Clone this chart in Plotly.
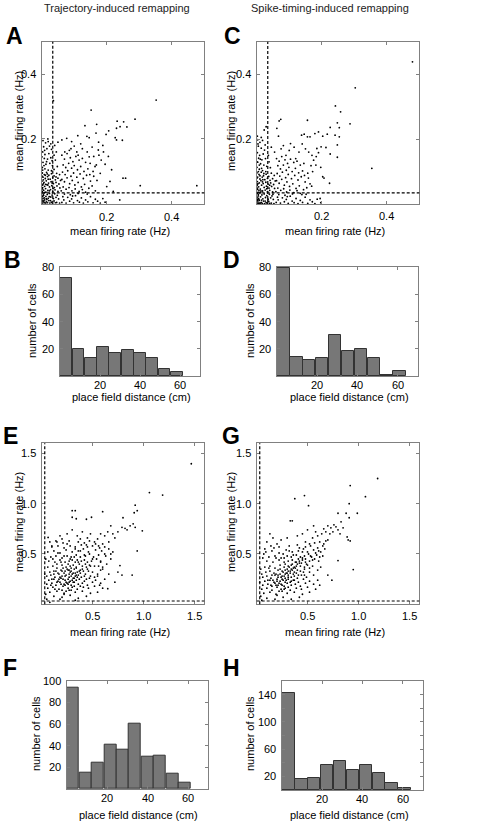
import plotly.graph_objects as go

W, H = 494, 822

# ---------------- data ----------------
# Panel A: trajectory-induced remapping, mean firing rate env1 vs env2 (Hz)
pts_A = [
    (0.352,0.320),(0.036,0.318),(0.152,0.289),(0.287,0.261),(0.232,0.255),(0.252,0.253),(0.241,0.238),(0.262,0.237),
    (0.230,0.233),(0.169,0.245),(0.133,0.241),(0.206,0.225),(0.198,0.214),(0.167,0.218),(0.139,0.208),(0.146,0.204),
    (0.248,0.196),(0.226,0.204),(0.111,0.210),(0.077,0.202),(0.303,0.056),(0.477,0.056),(0.258,0.079),(0.188,0.180),
    (0.174,0.166),(0.183,0.135),(0.180,0.094),(0.210,0.069),(0.200,0.053),(0.220,0.038),(0.240,0.012),
    (0.062,0.197),(0.092,0.192),(0.120,0.185),(0.149,0.125),(0.160,0.146),(0.205,0.146),(0.230,0.197),(0.164,0.115),
    (0.195,0.122),(0.215,0.105),(0.250,0.079),(0.125,0.170),(0.100,0.178),(0.085,0.165),(0.140,0.160),(0.155,0.175),
    (0.175,0.190),(0.112,0.150),
    (0.004,0.195),(0.012,0.188),(0.020,0.192),(0.028,0.185),(0.006,0.176),(0.016,0.170),(0.030,0.168),(0.003,0.160),
    (0.010,0.152),(0.022,0.155),(0.008,0.140),(0.018,0.138),(0.028,0.142),(0.004,0.128),(0.013,0.122),(0.025,0.125),
    (0.033,0.118),(0.002,0.112),(0.010,0.108),(0.020,0.104),(0.030,0.102),(0.040,0.180),(0.045,0.160),(0.042,0.135),
    (0.048,0.115),(0.038,0.150),(0.050,0.190),
    (0.002,0.095),(0.008,0.090),(0.015,0.097),(0.022,0.088),(0.030,0.093),(0.038,0.086),(0.046,0.094),(0.055,0.090),
    (0.004,0.082),(0.011,0.078),(0.018,0.084),(0.026,0.076),(0.034,0.080),(0.042,0.074),(0.050,0.079),(0.058,0.072),
    (0.001,0.070),(0.007,0.066),(0.014,0.071),(0.021,0.064),(0.029,0.068),(0.036,0.062),(0.044,0.066),(0.053,0.061),
    (0.003,0.058),(0.009,0.054),(0.016,0.059),(0.024,0.052),(0.031,0.056),(0.039,0.050),(0.047,0.055),(0.056,0.049),
    (0.002,0.046),(0.006,0.042),(0.012,0.047),(0.019,0.041),(0.027,0.044),(0.034,0.039),(0.041,0.043),(0.050,0.038),
    (0.001,0.034),(0.005,0.030),(0.010,0.035),(0.017,0.029),(0.024,0.032),(0.032,0.027),(0.040,0.031),(0.048,0.026),
    (0.003,0.022),(0.008,0.018),(0.013,0.023),(0.020,0.017),(0.028,0.021),(0.036,0.016),(0.044,0.020),(0.052,0.015),
    (0.001,0.011),(0.004,0.007),(0.009,0.012),(0.015,0.006),(0.022,0.010),(0.030,0.005),(0.038,0.009),(0.046,0.004),
    (0.002,0.002),(0.007,0.003),(0.012,0.001),(0.018,0.003),(0.025,0.002),(0.033,0.001),(0.042,0.003),(0.055,0.002),
    (0.005,0.062),(0.013,0.036),(0.020,0.076),(0.027,0.010),(0.006,0.026),(0.016,0.013),(0.011,0.088),(0.003,0.050),
    (0.010,0.004),(0.004,0.016),
    (0.001,0.085),(0.005,0.074),(0.002,0.038),(0.006,0.009),(0.014,0.016),(0.019,0.058),(0.024,0.040),(0.032,0.064),
    (0.001,0.024),(0.008,0.034),(0.012,0.060),(0.017,0.092),(0.023,0.022),(0.035,0.047),(0.044,0.083),(0.003,0.104),
    (0.007,0.118),(0.015,0.130),(0.001,0.145),(0.009,0.165),(0.024,0.178),(0.019,0.200),(0.032,0.133),(0.038,0.106),
    (0.062,0.004),(0.068,0.012),(0.075,0.002),(0.080,0.020),(0.086,0.008),(0.092,0.015),(0.098,0.003),(0.104,0.025),
    (0.110,0.010),(0.116,0.005),(0.122,0.018),(0.128,0.002),(0.135,0.012),(0.142,0.006),(0.150,0.022),(0.158,0.003),
    (0.165,0.014),(0.172,0.008),(0.180,0.002),(0.188,0.016),(0.195,0.005),(0.070,0.030),(0.088,0.028),(0.112,0.032),
    (0.140,0.030),(0.065,0.022),(0.095,0.024),
    (0.062,0.150),(0.070,0.138),(0.078,0.155),(0.088,0.142),(0.096,0.130),(0.105,0.146),(0.115,0.135),(0.125,0.140),
    (0.135,0.128),(0.066,0.120),(0.074,0.112),(0.083,0.125),(0.092,0.110),(0.100,0.118),(0.110,0.105),(0.120,0.115),
    (0.130,0.100),(0.142,0.108),(0.064,0.098),(0.072,0.090),(0.080,0.102),(0.090,0.085),(0.098,0.095),(0.108,0.082),
    (0.118,0.092),(0.128,0.078),(0.138,0.088),(0.150,0.070),(0.160,0.085),(0.170,0.072),(0.062,0.075),(0.070,0.068),
    (0.078,0.080),(0.086,0.062),(0.094,0.072),(0.102,0.058),(0.112,0.066),(0.122,0.052),(0.132,0.060),(0.145,0.048),
    (0.155,0.055),(0.165,0.040),(0.066,0.052),(0.075,0.045),(0.084,0.050),(0.093,0.040),(0.103,0.046),(0.115,0.038),
    (0.125,0.044),(0.135,0.036),(0.060,0.040),(0.071,0.160),(0.090,0.170),(0.108,0.160),(0.146,0.145),(0.158,0.100),
    (0.168,0.120),(0.176,0.150),(0.190,0.160),(0.148,0.090),
]

# Panel C: spike-timing-induced remapping
pts_C = [
    (0.479,0.438),(0.303,0.358),(0.242,0.302),(0.258,0.284),(0.248,0.250),(0.254,0.235),(0.287,0.247),(0.226,0.236),
    (0.156,0.258),(0.062,0.233),(0.074,0.261),(0.069,0.256),(0.029,0.238),(0.023,0.228),(0.002,0.209),(0.067,0.209),
    (0.138,0.212),(0.146,0.215),(0.156,0.207),(0.164,0.207),(0.179,0.217),(0.190,0.222),(0.203,0.209),(0.217,0.215),
    (0.241,0.212),(0.254,0.207),(0.248,0.182),(0.248,0.144),(0.226,0.154),(0.213,0.174),(0.198,0.176),(0.185,0.171),
    (0.190,0.158),(0.183,0.146),(0.354,0.110),(0.197,0.113),(0.203,0.084),(0.207,0.080),(0.224,0.064),(0.164,0.062),
    (0.169,0.055),(0.195,0.017),(0.197,0.004),
    (0.140,0.185),(0.150,0.170),(0.160,0.160),(0.170,0.150),(0.130,0.160),(0.115,0.175),(0.100,0.165),(0.090,0.150),
    (0.120,0.140),(0.075,0.170),(0.055,0.160),(0.082,0.180),(0.104,0.186),(0.045,0.175),
    (0.003,0.198),(0.010,0.190),(0.018,0.196),(0.026,0.182),(0.005,0.178),(0.014,0.172),(0.024,0.166),(0.002,0.158),
    (0.009,0.150),(0.020,0.154),(0.006,0.141),(0.016,0.136),(0.027,0.140),(0.003,0.129),(0.012,0.124),(0.022,0.120),
    (0.031,0.116),(0.001,0.113),(0.008,0.107),(0.018,0.103),(0.028,0.100),(0.038,0.130),(0.042,0.112),(0.036,0.150),
    (0.001,0.096),(0.007,0.091),(0.014,0.098),(0.021,0.087),(0.029,0.092),(0.037,0.085),(0.045,0.095),(0.054,0.088),
    (0.003,0.083),(0.010,0.077),(0.017,0.083),(0.025,0.075),(0.033,0.079),(0.041,0.073),(0.049,0.078),(0.057,0.071),
    (0.002,0.069),(0.008,0.065),(0.013,0.072),(0.020,0.063),(0.028,0.067),(0.035,0.061),(0.043,0.065),(0.052,0.060),
    (0.001,0.057),(0.006,0.053),(0.015,0.058),(0.023,0.051),(0.030,0.055),(0.038,0.049),(0.046,0.054),(0.055,0.048),
    (0.003,0.045),(0.007,0.041),(0.011,0.046),(0.018,0.040),(0.026,0.043),(0.033,0.038),(0.040,0.042),(0.049,0.037),
    (0.002,0.033),(0.005,0.029),(0.009,0.034),(0.016,0.028),(0.023,0.031),(0.031,0.026),(0.039,0.030),(0.047,0.025),
    (0.001,0.021),(0.006,0.017),(0.012,0.022),(0.019,0.016),(0.027,0.020),(0.035,0.015),(0.043,0.019),(0.051,0.014),
    (0.002,0.010),(0.004,0.006),(0.008,0.011),(0.014,0.005),(0.021,0.009),(0.029,0.004),(0.037,0.008),(0.045,0.003),
    (0.001,0.002),(0.006,0.001),(0.011,0.003),(0.017,0.002),(0.024,0.001),(0.032,0.003),(0.040,0.002),(0.053,0.001),
    (0.004,0.063),(0.012,0.035),(0.019,0.075),(0.026,0.009),(0.005,0.025),(0.015,0.012),(0.010,0.087),(0.002,0.049),
    (0.009,0.003),(0.003,0.015),(0.008,0.120),(0.015,0.110),
    (0.001,0.080),(0.004,0.036),(0.002,0.060),(0.007,0.013),(0.013,0.040),(0.018,0.068),(0.022,0.094),(0.031,0.047),
    (0.001,0.130),(0.005,0.100),(0.011,0.138),(0.004,0.185),(0.014,0.205),(0.034,0.012),(0.040,0.058),(0.050,0.030),
    (0.060,0.005),(0.066,0.013),(0.073,0.003),(0.079,0.019),(0.085,0.007),(0.091,0.014),(0.097,0.002),(0.103,0.024),
    (0.109,0.009),(0.115,0.004),(0.121,0.017),(0.127,0.001),(0.134,0.011),(0.141,0.005),(0.149,0.021),(0.157,0.002),
    (0.164,0.013),(0.171,0.007),(0.179,0.001),(0.186,0.015),(0.068,0.029),(0.087,0.027),(0.110,0.031),(0.139,0.029),
    (0.064,0.021),(0.094,0.023),(0.152,0.030),
    (0.061,0.140),(0.069,0.132),(0.077,0.146),(0.087,0.136),(0.095,0.125),(0.104,0.138),(0.114,0.128),(0.124,0.132),
    (0.134,0.120),(0.065,0.118),(0.073,0.108),(0.082,0.120),(0.091,0.104),(0.099,0.113),(0.109,0.100),(0.119,0.110),
    (0.129,0.096),(0.141,0.102),(0.063,0.094),(0.071,0.086),(0.079,0.098),(0.089,0.081),(0.097,0.091),(0.107,0.078),
    (0.117,0.088),(0.127,0.074),(0.137,0.084),(0.149,0.068),(0.159,0.080),(0.061,0.072),(0.069,0.064),(0.077,0.076),
    (0.085,0.058),(0.093,0.068),(0.101,0.054),(0.111,0.062),(0.121,0.048),(0.131,0.056),(0.144,0.044),(0.154,0.050),
    (0.065,0.049),(0.074,0.042),(0.083,0.047),(0.092,0.037),(0.102,0.043),(0.114,0.035),(0.124,0.041),(0.134,0.033),
    (0.059,0.038),(0.145,0.125),(0.157,0.095),(0.167,0.118),(0.175,0.135),(0.147,0.088),(0.172,0.100),(0.182,0.120),
]

# Panel E: trajectory-induced remapping (second condition)
pts_E = [
    (1.472,1.397),(1.060,1.110),(1.190,1.085),(0.920,0.985),(0.910,0.910),(0.940,0.930),(0.600,0.920),(0.800,0.860),
    (0.300,0.930),(0.330,0.930),(0.300,0.865),(0.340,0.850),(0.440,0.845),(0.490,0.865),(0.680,0.780),(0.790,0.765),
    (0.820,0.755),(0.870,0.780),(0.900,0.800),(0.920,0.765),(0.990,0.730),(0.840,0.740),(0.940,0.530),(0.890,0.290),
    (0.770,0.385),(0.790,0.290),(0.720,0.220),(0.650,0.155),(0.570,0.190),(0.750,0.320),(0.063,0.665),(0.080,0.020),
    (0.55,0.65),(0.58,0.70),(0.62,0.68),(0.65,0.72),(0.70,0.70),(0.72,0.66),(0.75,0.72),(0.60,0.60),(0.66,0.62),
    (0.56,0.58),(0.52,0.62),(0.48,0.70),(0.45,0.66),(0.40,0.72),(0.35,0.68),(0.30,0.74),(0.25,0.70),(0.20,0.65),
    (0.15,0.62),(0.10,0.58),(0.62,0.50),(0.68,0.45),(0.70,0.52),(0.64,0.40),(0.60,0.35),(0.66,0.30),(0.55,0.28),
    (0.58,0.42),
    (0.12,0.08),(0.20,0.07),(0.28,0.09),(0.36,0.06),(0.44,0.08),(0.22,0.10),
    (0.08,0.12),(0.15,0.13),(0.22,0.11),(0.27,0.14),(0.33,0.12),(0.40,0.13),(0.48,0.11),(0.55,0.12),
    (0.06,0.16),(0.11,0.17),(0.17,0.15),(0.21,0.18),(0.26,0.16),(0.30,0.17),(0.35,0.15),(0.41,0.17),(0.46,0.16),
    (0.52,0.18),(0.60,0.16),
    (0.05,0.20),(0.10,0.21),(0.14,0.19),(0.18,0.22),(0.22,0.20),(0.25,0.21),(0.29,0.19),(0.32,0.22),(0.36,0.20),
    (0.40,0.21),(0.45,0.19),(0.50,0.22),(0.58,0.21),
    (0.07,0.24),(0.12,0.25),(0.16,0.23),(0.19,0.26),(0.23,0.24),(0.26,0.25),(0.28,0.23),(0.31,0.26),(0.34,0.24),
    (0.37,0.25),(0.42,0.23),(0.47,0.26),(0.53,0.24),(0.62,0.25),
    (0.05,0.28),(0.09,0.29),(0.13,0.27),(0.17,0.30),(0.20,0.28),(0.24,0.29),(0.27,0.27),(0.30,0.30),(0.33,0.28),
    (0.36,0.29),(0.39,0.27),(0.43,0.30),(0.48,0.28),(0.55,0.30),(0.22,0.31),(0.28,0.32),
    (0.08,0.32),(0.12,0.33),(0.16,0.31),(0.19,0.34),(0.23,0.33),(0.26,0.34),(0.29,0.33),(0.32,0.35),(0.35,0.32),
    (0.38,0.34),(0.41,0.33),(0.45,0.35),(0.50,0.32),(0.58,0.34),(0.31,0.31),(0.34,0.36),
    (0.06,0.37),(0.11,0.38),(0.15,0.36),(0.20,0.39),(0.24,0.37),(0.28,0.38),(0.31,0.39),(0.34,0.37),(0.37,0.40),
    (0.40,0.38),(0.44,0.37),(0.47,0.39),(0.52,0.38),(0.60,0.37),(0.36,0.42),(0.39,0.43),
    (0.07,0.43),(0.13,0.42),(0.18,0.44),(0.23,0.42),(0.27,0.43),(0.30,0.44),(0.33,0.42),(0.42,0.44),(0.45,0.42),
    (0.49,0.43),(0.54,0.45),(0.58,0.43),
    (0.09,0.47),(0.14,0.48),(0.20,0.46),(0.25,0.48),(0.29,0.47),(0.34,0.49),(0.38,0.47),(0.43,0.48),(0.47,0.50),
    (0.51,0.47),(0.56,0.49),(0.63,0.48),
    (0.06,0.52),(0.12,0.53),(0.18,0.51),(0.24,0.54),(0.30,0.52),(0.36,0.53),(0.41,0.55),(0.46,0.52),(0.53,0.54),
    (0.59,0.53),(0.66,0.55),
    (0.10,0.57),(0.16,0.58),(0.22,0.56),(0.28,0.58),(0.33,0.57),(0.39,0.59),(0.45,0.57),(0.50,0.58),(0.57,0.56),
    (0.08,0.62),(0.14,0.63),(0.21,0.61),(0.27,0.63),(0.36,0.62),(0.42,0.61),(0.47,0.63),
    (0.04,0.10),(0.03,0.30),(0.04,0.45),(0.05,0.05),(0.18,0.05),(0.33,0.04),
    (0.21,0.25),(0.24,0.22),(0.27,0.30),(0.30,0.24),(0.33,0.31),(0.25,0.35),(0.29,0.36),(0.20,0.33),(0.23,0.28),
    (0.35,0.27),(0.38,0.31),(0.18,0.27),(0.26,0.20),(0.31,0.22),(0.40,0.35),(0.43,0.40),(0.35,0.44),(0.26,0.40),
    (0.15,0.40),(0.12,0.30),(0.15,0.22),(0.20,0.14),(0.32,0.18),(0.44,0.25),(0.50,0.45),(0.32,0.47),(0.22,0.48),
    (0.19,0.20),(0.23,0.19),(0.27,0.22),(0.29,0.28),(0.32,0.26),(0.34,0.29),(0.37,0.33),(0.27,0.34),(0.21,0.36),
    (0.17,0.25),(0.14,0.33),(0.10,0.25),(0.09,0.19),(0.13,0.15),(0.24,0.13),(0.29,0.14),(0.38,0.18),(0.42,0.28),
    (0.46,0.33),(0.48,0.38),(0.42,0.49),(0.38,0.53),(0.28,0.45),(0.19,0.42),(0.11,0.45),(0.16,0.51),(0.33,0.55),
    (0.44,0.59),(0.53,0.60),(0.25,0.60),(0.18,0.68),(0.38,0.65),(0.62,0.57),(0.68,0.50),(0.56,0.38),(0.52,0.27),
]

# Panel G: spike-timing-induced remapping (second condition)
pts_G = [
    (1.19,1.25),(0.92,1.18),(1.07,1.07),(0.47,1.08),(0.375,1.05),(0.51,0.98),(0.91,1.00),(0.80,0.905),(0.88,0.905),
    (0.99,0.905),(0.91,0.86),(0.33,0.83),(0.35,0.83),(0.83,0.82),(0.92,0.63),(0.90,0.64),(0.80,0.435),(0.95,0.345),
    (0.89,0.67),(0.74,0.24),(0.70,0.29),(0.62,0.19),
    (0.70,0.78),(0.73,0.76),(0.76,0.79),(0.78,0.77),(0.75,0.72),(0.72,0.70),(0.68,0.72),(0.66,0.75),(0.64,0.70),
    (0.80,0.74),(0.82,0.70),(0.85,0.76),(0.60,0.68),(0.58,0.72),(0.55,0.66),(0.62,0.62),(0.66,0.60),(0.70,0.64),
    (0.52,0.60),(0.48,0.62),(0.45,0.70),(0.40,0.68),(0.56,0.78),(0.50,0.74),
    (0.13,0.70),(0.16,0.66),(0.10,0.62),(0.20,0.60),(0.08,0.55),(0.17,0.56),(0.24,0.64),(0.30,0.66),
    (0.10,0.06),(0.18,0.05),(0.26,0.07),(0.34,0.05),(0.42,0.07),(0.20,0.09),(0.05,0.04),
    (0.07,0.11),(0.13,0.12),(0.19,0.10),(0.25,0.13),(0.30,0.11),(0.37,0.12),(0.45,0.10),(0.52,0.12),
    (0.05,0.15),(0.10,0.16),(0.15,0.14),(0.20,0.17),(0.24,0.15),(0.28,0.16),(0.33,0.14),(0.39,0.16),(0.44,0.15),
    (0.50,0.17),(0.58,0.15),
    (0.06,0.19),(0.11,0.20),(0.15,0.18),(0.18,0.21),(0.21,0.19),(0.24,0.20),(0.27,0.18),(0.30,0.21),(0.34,0.19),
    (0.38,0.20),(0.43,0.18),(0.48,0.21),(0.56,0.20),
    (0.08,0.23),(0.13,0.24),(0.17,0.22),(0.20,0.25),(0.23,0.23),(0.26,0.24),(0.28,0.22),(0.31,0.25),(0.34,0.23),
    (0.37,0.24),(0.41,0.22),(0.46,0.25),(0.52,0.23),(0.60,0.24),
    (0.06,0.27),(0.10,0.28),(0.14,0.26),(0.18,0.29),(0.21,0.27),(0.25,0.28),(0.28,0.26),(0.31,0.29),(0.34,0.27),
    (0.37,0.28),(0.40,0.26),(0.44,0.29),(0.49,0.27),(0.56,0.29),(0.23,0.30),(0.29,0.31),
    (0.09,0.32),(0.13,0.33),(0.17,0.31),(0.21,0.34),(0.25,0.33),(0.28,0.34),(0.31,0.33),(0.34,0.35),(0.37,0.32),
    (0.40,0.34),(0.43,0.33),(0.47,0.35),(0.52,0.32),(0.60,0.34),(0.33,0.31),(0.36,0.36),
    (0.08,0.37),(0.13,0.38),(0.18,0.36),(0.23,0.39),(0.27,0.37),(0.31,0.38),(0.34,0.39),(0.37,0.37),(0.40,0.40),
    (0.43,0.38),(0.47,0.37),(0.50,0.39),(0.55,0.38),(0.63,0.37),(0.39,0.42),(0.42,0.43),
    (0.10,0.43),(0.16,0.42),(0.22,0.44),(0.27,0.42),(0.31,0.43),(0.35,0.44),(0.38,0.42),(0.45,0.44),(0.48,0.42),
    (0.52,0.43),(0.57,0.45),(0.61,0.43),
    (0.12,0.47),(0.18,0.48),(0.24,0.46),(0.30,0.48),(0.34,0.47),(0.39,0.49),(0.43,0.47),(0.47,0.48),(0.51,0.50),
    (0.54,0.47),(0.59,0.49),(0.65,0.48),
    (0.09,0.52),(0.15,0.53),(0.22,0.51),(0.29,0.54),(0.35,0.52),(0.41,0.53),(0.46,0.55),(0.50,0.52),(0.56,0.54),
    (0.61,0.53),(0.67,0.55),
    (0.14,0.58),(0.22,0.57),(0.32,0.58),(0.40,0.59),(0.48,0.57),(0.53,0.58),(0.60,0.56),(0.65,0.58),
    (0.04,0.08),(0.03,0.22),(0.04,0.35),(0.06,0.46),
    (0.22,0.21),(0.25,0.25),(0.28,0.30),(0.31,0.27),(0.33,0.33),(0.36,0.30),(0.30,0.35),(0.26,0.32),(0.20,0.23),
    (0.35,0.40),(0.38,0.36),(0.42,0.41),(0.45,0.46),(0.48,0.45),(0.28,0.40),(0.24,0.27),(0.19,0.30),(0.16,0.24),
    (0.27,0.15),(0.33,0.22),(0.41,0.29),(0.46,0.32),(0.55,0.44),(0.58,0.51),(0.62,0.47),(0.26,0.50),
    (0.21,0.29),(0.23,0.35),(0.27,0.28),(0.30,0.31),(0.32,0.37),(0.35,0.34),(0.39,0.38),(0.41,0.45),(0.44,0.41),
    (0.29,0.24),(0.25,0.19),(0.19,0.19),(0.15,0.29),(0.12,0.36),(0.11,0.24),(0.14,0.19),(0.22,0.13),(0.31,0.17),
    (0.36,0.24),(0.39,0.31),(0.49,0.40),(0.53,0.48),(0.45,0.52),(0.36,0.49),(0.27,0.46),(0.19,0.46),(0.32,0.53),
    (0.42,0.56),(0.57,0.61),(0.63,0.52),(0.68,0.63),(0.52,0.36),(0.47,0.29),(0.07,0.50),(0.05,0.30),
]

# histogram bins (place field distance, cm) and counts
bins_BF = [3.08, 9.23, 15.38, 21.53, 27.68, 33.83, 39.98, 46.13, 52.28, 58.43]
bins_DH = [3.21, 9.63, 16.05, 22.47, 28.89, 35.31, 41.73, 48.15, 54.57, 60.99]
counts_B = [72, 20, 13, 21, 17, 19, 17, 13, 5, 3]
counts_D = [79, 14, 12, 13, 30, 18, 20, 13, 1, 4]
counts_F = [94, 15, 24, 41, 36, 60, 30, 31, 14, 6]
counts_H = [142, 16, 17, 36, 43, 29, 37, 25, 11, 3]

# ticks
ticks_rate_small = [0.2, 0.4]
ticks_rate_large = [0.5, 1.0, 1.5]
ticks_dist = [20, 40, 60]
ticks_cells_80 = [20, 40, 60, 80]
ticks_cells_100 = [20, 40, 60, 80, 100]
ticks_cells_160 = [20, 40, 60, 80, 100, 120, 140]
labels_cells_160 = ["20", "", "60", "", "100", "", "140"]

threshold_x = 0.034   # dashed threshold lines (Hz)
threshold_y = 0.034
threshold_x2 = 0.03
threshold_y2 = 0.033

# ---------------- figure ----------------
FONT = "Liberation Sans, Arial, Helvetica, sans-serif"
GRAY = "#808080"

def dx(a, b):
    return [a / W, b / W]

def dy(top, bottom):
    return [1 - bottom / H, 1 - top / H]

def px(x):
    return x / W

def py(y):
    return 1 - y / H

fig = go.Figure()

def base_axis(**kw):
    d = dict(showline=True, linecolor=GRAY, linewidth=1, mirror="ticks", ticks="inside",
             ticklen=3, tickcolor=GRAY, tickwidth=1, showgrid=False, zeroline=False,
             showticklabels=False, fixedrange=True)
    d.update(kw)
    return d

panels = {
    "A": ((41.7, 204.3), (41.7, 203.8)),
    "C": ((256.7, 419.3), (41.7, 204.0)),
    "B": ((60.0, 200.0), (267.0, 376.0)),
    "D": ((277.0, 417.7), (267.0, 376.0)),
    "E": ((41.7, 204.3), (443.3, 604.3)),
    "G": ((256.7, 419.3), (443.3, 604.3)),
    "F": ((66.7, 208.3), (680.7, 789.0)),
    "H": ((282.0, 422.7), (681.0, 790.0)),
}
order = ["A", "C", "B", "D", "E", "G", "F", "H"]
axid = {k: i + 1 for i, k in enumerate(order)}

def axnames(k):
    i = axid[k]
    return ("x" if i == 1 else f"x{i}"), ("y" if i == 1 else f"y{i}")

# per panel: x range, x ticks, x labels, x label offset ; y range, y ticks, y labels
spec = {
    "A": ([0, 0.5], ticks_rate_small, ["0.2", "0.4"], 13, [0, 0.5], ticks_rate_small, ["0.2", "0.4"]),
    "C": ([0, 0.5], ticks_rate_small, ["0.2", "0.4"], 12, [0, 0.5], ticks_rate_small, ["0.2", "0.4"]),
    "B": ([0, 70], ticks_dist, ["20", "40", "60"], 8.5, [0, 80], ticks_cells_80, ["20", "40", "60", "80"]),
    "D": ([0, 70], ticks_dist, ["20", "40", "60"], 8.5, [0, 80], ticks_cells_80, ["20", "40", "60", "80"]),
    "E": ([0, 1.6], ticks_rate_large, ["0.5", "1.0", "1.5"], 12, [0, 1.6], ticks_rate_large, ["0.5", "1.0", "1.5"]),
    "G": ([0, 1.6], ticks_rate_large, ["0.5", "1.0", "1.5"], 12, [0, 1.6], ticks_rate_large, ["0.5", "1.0", "1.5"]),
    "F": ([0, 70], ticks_dist, ["20", "40", "60"], 8.5, [0, 100], ticks_cells_100, ["20", "40", "60", "80", "100"]),
    "H": ([0, 70], ticks_dist, ["20", "40", "60"], 9, [0, 160], ticks_cells_160, labels_cells_160),
}

ann = []
TICKFONT = dict(family=FONT, size=11, color="black")
layout_axes = {}
for k in order:
    i = axid[k]
    (xa, xb), (yt, yb) = panels[k]
    xn, yn = axnames(k)
    xr, xt, xl, xoff, yr, yt_, yl = spec[k]
    xkey = "xaxis" if i == 1 else f"xaxis{i}"
    ykey = "yaxis" if i == 1 else f"yaxis{i}"
    layout_axes[xkey] = base_axis(range=xr, tickvals=xt, domain=dx(xa, xb), anchor=yn)
    layout_axes[ykey] = base_axis(range=yr, tickvals=yt_, domain=dy(yt, yb), anchor=xn)
    for v, t in zip(xt, xl):
        ann.append(dict(x=v, xref=xn, y=0, yref=f"{yn} domain", yshift=-xoff, text=t, borderpad=0,
                        showarrow=False, xanchor="center", yanchor="middle", font=TICKFONT))
    for v, t in zip(yt_, yl):
        if t:
            ann.append(dict(x=0, xref=f"{xn} domain", y=v, yref=yn, xshift=-5, text=t, borderpad=0,
                            showarrow=False, xanchor="right", yanchor="middle", font=TICKFONT))

# scatter panels
for k, pts in (("A", pts_A), ("C", pts_C), ("E", pts_E), ("G", pts_G)):
    xn, yn = axnames(k)
    fig.add_trace(go.Scatter(
        x=[p[0] for p in pts], y=[p[1] for p in pts], mode="markers",
        marker=dict(size=1.8, color="black", line=dict(width=0)),
        xaxis=xn, yaxis=yn, showlegend=False, hoverinfo="skip"))

# histogram panels
for k, bins, counts, wd in (("B", bins_BF, counts_B, 5.9), ("D", bins_DH, counts_D, 6.2),
                             ("F", bins_BF, counts_F, 5.9), ("H", bins_DH, counts_H, 6.2)):
    xn, yn = axnames(k)
    fig.add_trace(go.Bar(
        x=bins, y=counts, width=[wd] * len(bins),
        marker=dict(color="#777777", line=dict(color="#333333", width=1)),
        xaxis=xn, yaxis=yn, showlegend=False, hoverinfo="skip"))

# dashed threshold lines
shapes = []
for k, tx, ty in (("A", threshold_x, threshold_y), ("C", threshold_x, threshold_y),
                  ("E", threshold_x2, threshold_y2), ("G", threshold_x2, threshold_y2)):
    xn, yn = axnames(k)
    ln = dict(color="black", width=1.2, dash="3px,2px")
    shapes.append(dict(type="line", xref=xn, yref=f"{yn} domain", x0=tx, x1=tx, y0=0, y1=1, line=ln))
    shapes.append(dict(type="line", xref=f"{xn} domain", yref=yn, x0=0, x1=1, y0=ty, y1=ty, line=ln))

def text(x, y, s, size=11, angle=0, bold=False, color="black", xanchor="center"):
    ann.append(dict(x=px(x), y=py(y), xref="paper", yref="paper", text=(f"<b>{s}</b>" if bold else s),
                    showarrow=False, textangle=angle, xanchor=xanchor, yanchor="middle", borderpad=0,
                    font=dict(family=FONT, size=size, color=color)))

text(117, 8, "Trajectory-induced remapping", color="#222222")
text(330, 8, "Spike-timing-induced remapping", color="#222222")

for lab, x, y in (("A", 14, 36), ("C", 232, 36), ("B", 12, 260), ("D", 231, 260),
                  ("E", 10, 436), ("G", 231, 436), ("F", 10, 668), ("H", 231, 668)):
    text(x, y, lab, size=23, bold=True)

# y titles
text(19, 121, "mean firing rate (Hz)", angle=-90)
text(231, 121, "mean firing rate (Hz)", angle=-90)
text(32, 321, "number of cells", angle=-90)
text(250, 321, "number of cells", angle=-90)
text(19, 522, "mean firing rate (Hz)", angle=-90)
text(231, 522, "mean firing rate (Hz)", angle=-90)
text(36, 734, "number of cells", angle=-90)
text(250, 734, "number of cells", angle=-90)

# x titles
text(120, 231, "mean firing rate (Hz)")
text(335, 231, "mean firing rate (Hz)")
text(131, 397.5, "place field distance (cm)")
text(349, 397.5, "place field distance (cm)")
text(120, 632, "mean firing rate (Hz)")
text(335, 632, "mean firing rate (Hz)")
text(138, 815, "place field distance (cm)")
text(349, 815, "place field distance (cm)")

fig.update_layout(
    width=W, height=H, margin=dict(l=0, r=0, t=0, b=0),
    paper_bgcolor="white", plot_bgcolor="white",
    shapes=shapes, annotations=ann, bargap=0,
    **layout_axes,
)

fig.write_html("out.html", config={"displayModeBar": False},
               post_script="document.body.style.margin='0';document.body.style.padding='0';document.body.style.overflow='hidden';")
